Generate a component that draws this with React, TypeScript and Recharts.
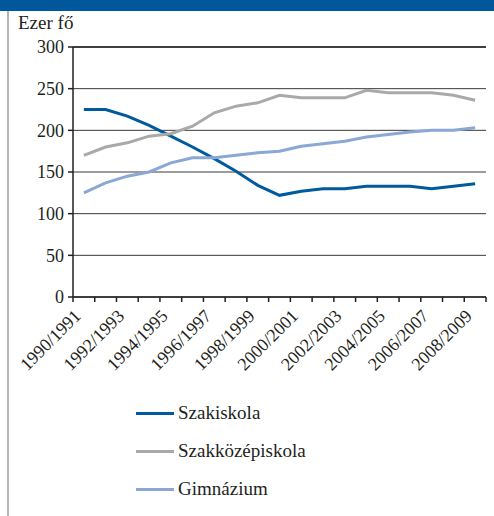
import React from "react";
import { CartesianGrid, Legend, Line, LineChart, ReferenceLine, XAxis, YAxis } from "recharts";

const years = [
  "1990/1991", "1991/1992", "1992/1993", "1993/1994", "1994/1995", "1995/1996", "1996/1997",
  "1997/1998", "1998/1999", "1999/2000", "2000/2001", "2001/2002", "2002/2003", "2003/2004",
  "2004/2005", "2005/2006", "2006/2007", "2007/2008", "2008/2009",
];

const szakiskola = [225, 225, 217, 206, 193, 180, 166, 151, 134, 122, 127, 130, 130, 133, 133, 133, 130, 133, 136];
const szakkozep = [170, 180, 185, 193, 196, 205, 221, 229, 233, 242, 239, 239, 239, 248, 245, 245, 245, 242, 236];
const gimnazium = [125, 137, 145, 150, 161, 167, 167, 170, 173, 175, 181, 184, 187, 192, 195, 198, 200, 200, 203];

const seriesNames = ["Szakiskola", "Szakközépiskola", "Gimnázium"];
const yTicks = [0, 50, 100, 150, 200, 250, 300];

const data = years.map((y, i) => ({
  year: y,
  szakiskola: szakiskola[i],
  szakkozep: szakkozep[i],
  gimnazium: gimnazium[i],
}));

const W = 494;
const H = 516;
const LEFT = 73;
const RIGHT = 8;
const BAND = (W - LEFT - RIGHT) / years.length;
const INK = "#231f20";
const FONT = "'Liberation Serif', Tinos, 'Times New Roman', 'DejaVu Serif', 'Noto Serif', serif";

// tick marks sit on the category boundaries, labels on every second category
const XTick = (props: any) => {
  const { x, y, payload, index } = props;
  const last = index === years.length - 1;
  return (
    <g>
      <line x1={x - BAND / 2} x2={x - BAND / 2} y1={y} y2={y + 5} stroke={INK} strokeWidth={1.5} />
      {last && <line x1={x + BAND / 2} x2={x + BAND / 2} y1={y} y2={y + 5} stroke={INK} strokeWidth={1.5} />}
      {index % 2 === 0 && (
        <text
          x={x - 2}
          y={y + 20}
          textAnchor="end"
          transform={`rotate(-45, ${x - 2}, ${y + 20})`}
          fontSize={18}
          fontFamily={FONT}
          fill={INK}
        >
          {payload.value}
        </text>
      )}
    </g>
  );
};

// keep the legend in the order of the original, not alphabetical
const LegendBox = ({ payload }: any) => {
  const items = [...(payload || [])].sort(
    (a: any, b: any) => seriesNames.indexOf(a.value) - seriesNames.indexOf(b.value)
  );
  return (
    <div style={{ fontFamily: FONT, fontSize: 19, color: INK }}>
      {items.map((p: any) => (
        <div key={p.value} style={{ display: "flex", alignItems: "center", height: 38 }}>
          <div style={{ width: 38, height: 3, background: p.color, marginRight: 4 }} />
          <span>{p.value}</span>
        </div>
      ))}
    </div>
  );
};

export default function App() {
  return (
    <div style={{ position: "absolute", left: 0, top: 0, width: W, height: H, background: "#fff", overflow: "hidden" }}>
      <div style={{ position: "absolute", left: 0, top: 0, width: W, height: 11, background: "#00579b" }} />
      <div style={{ position: "absolute", left: 7, top: 11, width: 2, bottom: 0, background: "#b5b5b5" }} />
      <div
        style={{
          position: "absolute",
          left: 18,
          top: 13,
          fontFamily: FONT,
          fontSize: 19,
          lineHeight: 1,
          color: INK,
        }}
      >
        Ezer fő
      </div>
      <LineChart
        width={W}
        height={H}
        data={data}
        margin={{ top: 47, right: RIGHT, left: 0, bottom: 139 }}
        style={{ position: "absolute", left: 0, top: 0 }}
      >
        <CartesianGrid vertical={false} stroke="#3a3a3a" strokeWidth={1} yAxisId="left" />
        <XAxis
          dataKey="year"
          height={80}
          interval={0}
          padding={{ left: BAND / 2, right: BAND / 2 }}
          tickLine={false}
          tickSize={0}
          tickMargin={0}
          axisLine={{ stroke: INK, strokeWidth: 1.5 }}
          tick={<XTick />}
        />
        <YAxis
          yAxisId="left"
          width={LEFT}
          domain={[0, 300]}
          ticks={yTicks}
          tickSize={5}
          tickMargin={4}
          axisLine={{ stroke: INK, strokeWidth: 1.5 }}
          tickLine={{ stroke: INK, strokeWidth: 1.5 }}
          tick={{ fontSize: 18, fontFamily: FONT, fill: INK }}
        />
        <YAxis
          yAxisId="right"
          orientation="right"
          width={0}
          domain={[0, 300]}
          tick={false}
          tickLine={false}
          axisLine={{ stroke: INK, strokeWidth: 1.5 }}
        />
        <ReferenceLine yAxisId="left" y={300} stroke={INK} strokeWidth={1.5} />
        <Line yAxisId="left" type="linear" dataKey="szakiskola" name={seriesNames[0]} stroke="#005a9c" strokeWidth={3} dot={false} isAnimationActive={false} />
        <Line yAxisId="left" type="linear" dataKey="szakkozep" name={seriesNames[1]} stroke="#a9a9aa" strokeWidth={3} dot={false} isAnimationActive={false} />
        <Line yAxisId="left" type="linear" dataKey="gimnazium" name={seriesNames[2]} stroke="#8aa7d6" strokeWidth={3} dot={false} isAnimationActive={false} />
        <Legend
          layout="vertical"
          align="center"
          verticalAlign="middle"
          content={<LegendBox />}
          wrapperStyle={{ left: 136, top: 394, width: 260 }}
        />
      </LineChart>
    </div>
  );
}
